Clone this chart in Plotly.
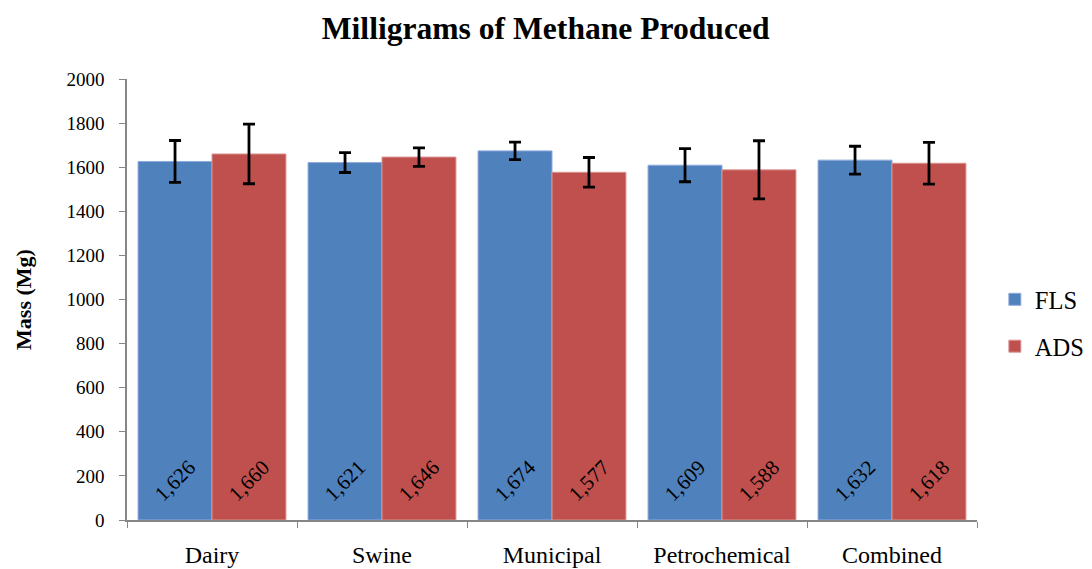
import plotly.graph_objects as go

categories = ["Dairy", "Swine", "Municipal", "Petrochemical", "Combined"]
fls_values = [1626, 1621, 1674, 1609, 1632]
ads_values = [1660, 1646, 1577, 1588, 1618]
fls_err = [95, 45, 40, 75, 63]
ads_err = [135, 42, 67, 132, 95]
y_ticks = [0, 200, 400, 600, 800, 1000, 1200, 1400, 1600, 1800, 2000]

FONT = "Liberation Serif, Times New Roman, serif"
PAD = "\u00a0" * 3

def lbl(vals):
    return [f"{PAD}{v:,}{PAD}" for v in vals]

fig = go.Figure()
fig.add_trace(go.Bar(
    name="FLS", x=categories, y=fls_values, legendgroup="a",
    marker=dict(color="#4F81BD", line=dict(color="#8EAADB", width=1)),
    error_y=dict(type="data", array=fls_err, color="black", thickness=2.8, width=6),
    text=lbl(fls_values), textposition="inside", insidetextanchor="start",
    constraintext="none", cliponaxis=False,
    textangle=-45, textfont=dict(family=FONT, size=21, color="black"),
))
fig.add_trace(go.Bar(
    name="ADS", x=categories, y=ads_values, legendgroup="b",
    marker=dict(color="#C0504D", line=dict(color="#D99694", width=1)),
    error_y=dict(type="data", array=ads_err, color="black", thickness=2.8, width=6),
    text=lbl(ads_values), textposition="inside", insidetextanchor="start",
    constraintext="none", cliponaxis=False,
    textangle=-45, textfont=dict(family=FONT, size=21, color="black"),
))

# page body has an 8px margin; compensate so the plot area lands where the reference has it
fig.update_layout(
    width=1084, height=561,
    barmode="group", bargap=0.13, bargroupgap=0,
    plot_bgcolor="white", paper_bgcolor="white",
    margin=dict(l=119, r=115, t=71, b=49, autoexpand=False),
    font=dict(family=FONT, size=19, color="black"),
    title=dict(text="<b>Milligrams of Methane Produced</b>", x=0.496, xanchor="center",
               xref="container", y=0.964, yanchor="middle",
               font=dict(family=FONT, size=31.6, color="black")),
    legend=dict(x=1.021, xanchor="left", y=0.447, yanchor="middle",
                font=dict(family=FONT, size=24.5), tracegroupgap=12,
                itemwidth=30),
)
fig.update_xaxes(
    showline=True, linecolor="#868686", linewidth=1.5,
    ticks="outside", tickson="boundaries", ticklen=6, tickcolor="#868686",
    tickfont=dict(family=FONT, size=24), ticklabelstandoff=12,
)
fig.update_yaxes(
    range=[0, 2000], tickvals=y_ticks, showgrid=False, zeroline=False,
    showline=True, linecolor="#868686", linewidth=1.5,
    ticks="outside", ticklen=6, tickcolor="#868686",
    tickfont=dict(family=FONT, size=19), ticklabelstandoff=11,
    title=dict(text="\u00a0" * 4 + "<b>Mass (Mg)</b>", font=dict(family=FONT, size=22), standoff=29),
)

fig.write_html("out.html")
